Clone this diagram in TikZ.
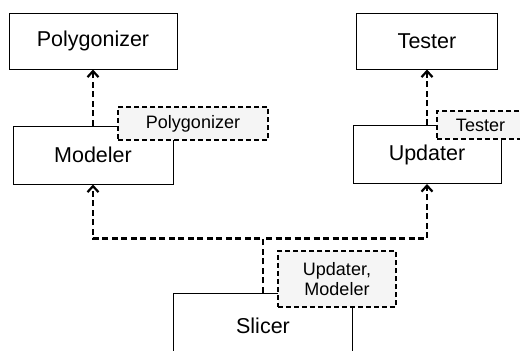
\documentclass[tikz,border=0pt]{standalone}
\usepackage{fontspec}
\setmainfont{Liberation Sans}
\usetikzlibrary{arrows.meta}
\begin{document}
\begin{tikzpicture}[x=1pt,y=-1pt,
  mainbox/.style={draw=black,line width=1pt,fill=white,rectangle,inner sep=0pt,
    font=\fontsize{21.5}{24}\selectfont},
  lblbox/.style={draw=black,line width=2pt,dash pattern=on 5pt off 3pt,fill=black!4,
    rectangle,inner sep=0pt,align=center,font=\fontsize{18}{20.5}\selectfont},
  dep/.style={line width=2.2pt,dash pattern=on 6pt off 3.5pt,
    -{Straight Barb[length=6pt,width=11pt]}}
]
\useasboundingbox (0,0) rectangle (520,351);
\clip (0,0) rectangle (520,351);
% main boxes
\node[mainbox,minimum width=168pt,minimum height=56pt] (poly) at (93,41) {Polygonizer};
\node[mainbox,minimum width=141pt,minimum height=56pt] (tester) at (427,41) {Tester};
\node[mainbox,minimum width=160pt,minimum height=58pt] (modeler) at (93,155) {Modeler};
\node[mainbox,minimum width=148pt,minimum height=58pt] (updater) at (427,154.5) {Updater};
\node[mainbox,minimum width=179pt,minimum height=66pt] (slicer) at (263,326) {Slicer};
% connectors
\draw[dep] (modeler.north -| poly.south) -- (poly.south);
\draw[dep] (updater.north -| tester.south) -- (tester.south);
\draw[dep] (slicer.north) -- ++(0,-54) coordinate (jn) -| (modeler.south);
\draw[dep] (slicer.north) -- (jn) -| (updater.south);
% template labels
\node[lblbox,minimum width=150pt,minimum height=33pt] (polyL) at (193,123.5) {Polygonizer};
\node[lblbox,minimum width=87pt,minimum height=28pt] (testerL) at (480.5,125) {Tester};
\node[lblbox,minimum width=118pt,minimum height=56pt] (updModL) at (337,279) {Updater,\\Modeler};
\end{tikzpicture}
\end{document}
